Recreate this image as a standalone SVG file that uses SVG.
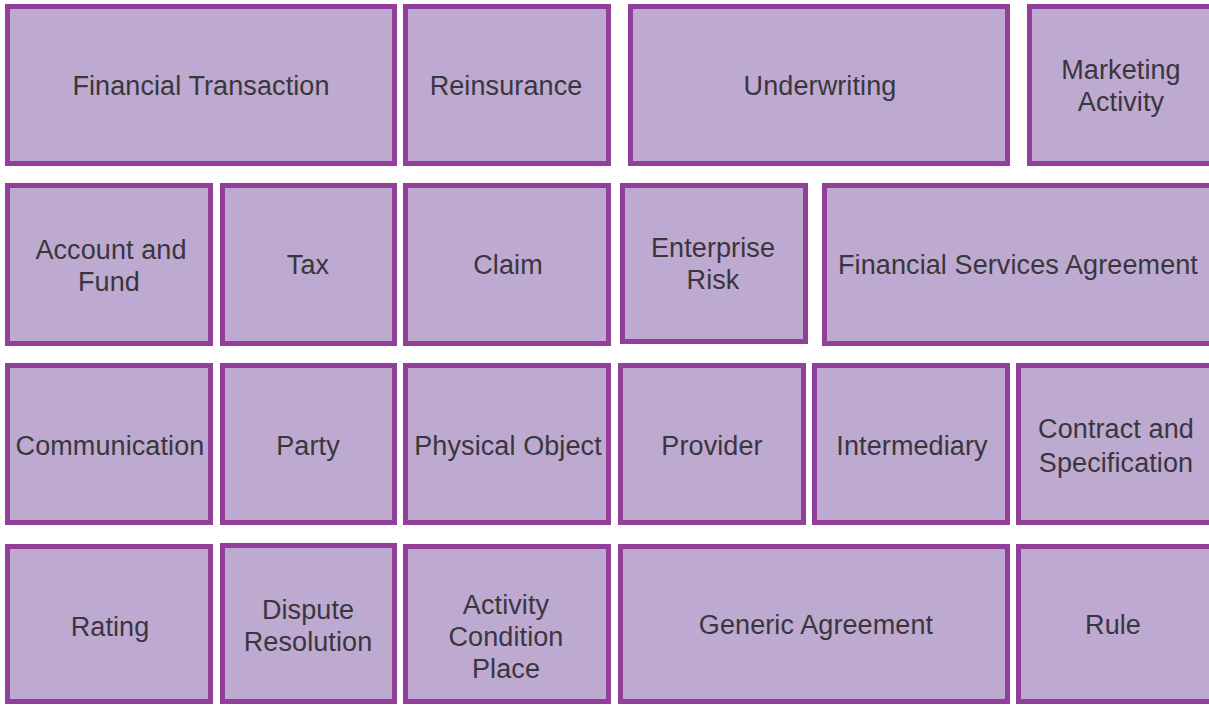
<svg xmlns="http://www.w3.org/2000/svg" width="1209" height="705" viewBox="0 0 1209 705">
<style>
.box{fill:#bea9d0;stroke:#913f98;stroke-width:5}
.t{font-family:"Liberation Sans",Arial,sans-serif;font-size:27px;fill:#3a363d;text-anchor:middle;letter-spacing:0.1px}
</style>
<rect x="0" y="0" width="1209" height="705" fill="#ffffff"/>
<g id="financial-transaction"><rect class="box" x="7.5" y="6.5" width="387" height="157"/><text class="t" x="201" y="95">Financial Transaction</text></g>
<g id="reinsurance"><rect class="box" x="405.5" y="6.5" width="203" height="157"/><text class="t" x="506" y="95">Reinsurance</text></g>
<g id="underwriting"><rect class="box" x="630.5" y="6.5" width="377" height="157"/><text class="t" x="820" y="95">Underwriting</text></g>
<g id="marketing-activity"><rect class="box" x="1029.5" y="6.5" width="190" height="157"/><text class="t" x="1121" y="79">Marketing</text><text class="t" x="1121" y="111">Activity</text></g>

<g id="account-and-fund"><rect class="box" x="7.5" y="185.5" width="203" height="158"/><text class="t" x="111" y="259">Account and</text><text class="t" x="109" y="291">Fund</text></g>
<g id="tax"><rect class="box" x="222.5" y="185.5" width="172" height="158"/><text class="t" x="308" y="274">Tax</text></g>
<g id="claim"><rect class="box" x="405.5" y="185.5" width="203" height="158"/><text class="t" x="508" y="274">Claim</text></g>
<g id="enterprise-risk"><rect class="box" x="622.5" y="185.5" width="183" height="156"/><text class="t" x="713" y="257">Enterprise</text><text class="t" x="713" y="289">Risk</text></g>
<g id="financial-services-agreement"><rect class="box" x="824.5" y="185.5" width="395" height="158"/><text class="t" x="1018" y="274">Financial Services Agreement</text></g>

<g id="communication"><rect class="box" x="7.5" y="365.5" width="203" height="157"/><text class="t" x="110" y="455">Communication</text></g>
<g id="party"><rect class="box" x="222.5" y="365.5" width="172" height="157"/><text class="t" x="308" y="455">Party</text></g>
<g id="physical-object"><rect class="box" x="405.5" y="365.5" width="203" height="157"/><text class="t" x="508" y="455">Physical Object</text></g>
<g id="provider"><rect class="box" x="620.5" y="365.5" width="183" height="157"/><text class="t" x="712" y="455">Provider</text></g>
<g id="intermediary"><rect class="box" x="814.5" y="365.5" width="193" height="157"/><text class="t" x="912" y="455">Intermediary</text></g>
<g id="contract-and-specification"><rect class="box" x="1018.5" y="365.5" width="200" height="157"/><text class="t" x="1116" y="438">Contract and</text><text class="t" x="1116" y="472">Specification</text></g>

<g id="rating"><rect class="box" x="7.5" y="546.5" width="203" height="155"/><text class="t" x="110" y="636">Rating</text></g>
<g id="dispute-resolution"><rect class="box" x="222.5" y="545.5" width="172" height="156"/><text class="t" x="308" y="619">Dispute</text><text class="t" x="308" y="651">Resolution</text></g>
<g id="activity-condition-place"><rect class="box" x="405.5" y="546.5" width="203" height="155"/><text class="t" x="506" y="614">Activity</text><text class="t" x="506" y="646">Condition</text><text class="t" x="506" y="678">Place</text></g>
<g id="generic-agreement"><rect class="box" x="620.5" y="546.5" width="387" height="155"/><text class="t" x="816" y="634">Generic Agreement</text></g>
<g id="rule"><rect class="box" x="1018.5" y="546.5" width="200" height="155"/><text class="t" x="1113" y="634">Rule</text></g>
<g id="connectors"></g>
</svg>
